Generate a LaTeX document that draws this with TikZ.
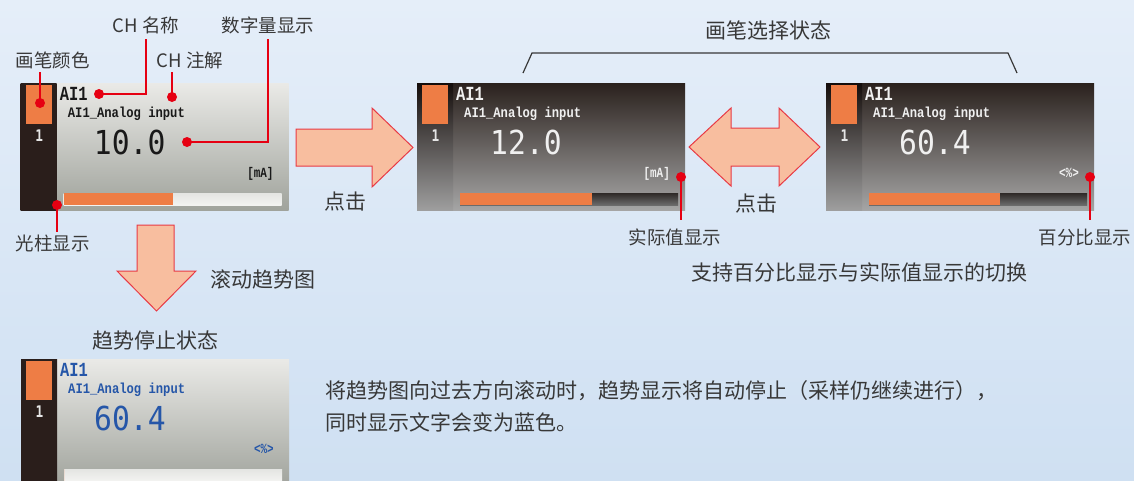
\documentclass[tikz,border=0pt]{standalone}
\usepackage{fontspec}
\usepackage{graphicx}
\setmainfont{Noto Sans CJK SC}
\newfontfamily\lmono{Liberation Mono}
\newfontfamily\dmono{DejaVu Sans Mono}
\definecolor{bgtop}{HTML}{E5EEF9}
\definecolor{bgbot}{HTML}{CFE0F2}
\definecolor{txtgray}{HTML}{383838}
\definecolor{calred}{HTML}{E60012}
\definecolor{arrowfill}{HTML}{F8BE9F}
\definecolor{arrowline}{HTML}{E83A45}
\definecolor{orangec}{HTML}{EE7D45}
\definecolor{lightTop}{HTML}{EAEAE7}
\definecolor{lightBot}{HTML}{A0A39C}
\definecolor{darkTop}{HTML}{2A211D}
\definecolor{darkBot}{HTML}{A5A5A5}
\definecolor{colDark}{HTML}{2A1E1B}
\definecolor{colDarkTop}{HTML}{140D0B}
\definecolor{colDarkBot}{HTML}{9E9E9E}
\definecolor{barLightA}{HTML}{E4E5E2}
\definecolor{barLightB}{HTML}{F3F3F1}
\definecolor{barDarkA}{HTML}{2E2927}
\definecolor{barDarkB}{HTML}{6B6B6B}
\definecolor{dispblue}{HTML}{2556A8}
\tikzset{
  lpmain/.style={top color=lightTop,bottom color=lightBot},
  lpcol/.style={top color=colDark,bottom color=colDark},
  lpbar/.style={top color=barLightA,bottom color=barLightB},
  lptxt/.style={text=black!90},
  bpmain/.style={lpmain}, bpcol/.style={lpcol}, bpbar/.style={lpbar},
  bptxt/.style={text=dispblue},
  dpmain/.style={top color=darkTop,bottom color=darkBot},
  dpcol/.style={top color=colDarkTop,bottom color=colDarkBot},
  dpbar/.style={top color=barDarkA,bottom color=barDarkB},
  dptxt/.style={text=white!94!black},
  lbl/.style={font=\fontsize{18.5}{22}\selectfont, text=txtgray, inner sep=0pt, anchor=base},
  captxt/.style={font=\fontsize{21}{25}\selectfont, text=txtgray, inner sep=0pt, anchor=base},
  callout/.style={draw=calred, line width=1.6pt},
  reddot/.style={circle, fill=calred, minimum size=10pt, inner sep=0pt},
  bigarrow/.style={fill=arrowfill, draw=arrowline, line width=1pt, line join=miter},
  bracketline/.style={draw=txtgray, line width=1.2pt},
}
% #1 name, #2 x0, #3 y0, #4 theme, #5 number, #6 unit, #7 orange end
\newcommand\dpanel[7]{%
\begin{scope}[shift={(#2,#3)}]
  \shade[#4main] (0,0) rectangle (268,127);
  \shade[#4col] (0,0) rectangle (36,127);
  \fill[orangec] (5,2) rectangle (31,41);
  \node[anchor=base, inner sep=0pt, text=white!90!black, font=\dmono\bfseries\fontsize{16}{16}\selectfont] (#1one) at (18.5,58) {\scalebox{0.8}[1]{1}};
  \node[anchor=base west, inner sep=0pt, #4txt, font=\lmono\bfseries\fontsize{20}{20}\selectfont] (#1ch) at (39,17.5) {\scalebox{0.77}[1]{AI1}};
  \node[anchor=base west, inner sep=0pt, #4txt, font=\lmono\bfseries\fontsize{14.5}{14.5}\selectfont] (#1note) at (47,34) {\scalebox{0.84}[1]{AI1\_Analog input}};
  \node[anchor=base west, inner sep=0pt, #4txt, font=\dmono\fontsize{33}{33}\selectfont] (#1num) at (73,71.5) {\scalebox{0.9}[1]{#5}};
  \node[anchor=base east, inner sep=0pt, #4txt, font=\lmono\bfseries\fontsize{14}{14}\selectfont] (#1unit) at (253,94) {\scalebox{0.78}[1]{#6}};
  \shade[#4bar] (43,110) rectangle (261,122);
  \fill[orangec] (43,110) rectangle (#7,122);
\end{scope}}
\begin{document}
\begin{tikzpicture}[x=1pt,y=-1pt]
\useasboundingbox (0,0) rectangle (1134,480);
\clip (0,0) rectangle (1134,480);
\shade[top color=bgtop,bottom color=bgbot] (0,0) rectangle (1134,480);

% panels
\dpanel{pa}{20.7}{83}{lp}{10.0}{[mA]}{152}
\dpanel{pb}{417}{83}{dp}{12.0}{[mA]}{175}
\dpanel{pc}{826}{83}{dp}{60.4}{<\%>}{174}
\dpanel{pd}{21}{359}{bp}{60.4}{<\%>}{43}

% big arrows
\draw[bigarrow] (296,129) -- (372,129) -- (372,108) -- (413,147.5) -- (372,187) -- (372,166) -- (296,166) -- cycle;
\draw[bigarrow] (689,147) -- (731,108) -- (731,128) -- (779,128) -- (779,108) -- (820,147) -- (779,186) -- (779,166) -- (731,166) -- (731,186) -- cycle;
\draw[bigarrow] (137,225) -- (174,225) -- (174,271) -- (196,271) -- (156.5,311) -- (117,271) -- (137,271) -- cycle;

% bracket
\draw[bracketline] (523,73) -- (532,53) -- (1008,53) -- (1017,73);

% labels
\node[lbl] (lColor) at (53,67) {画笔颜色};
\node[lbl] (lName) at (146,32) {CH 名称};
\node[lbl] (lNote) at (190,67) {CH 注解};
\node[lbl] (lNum) at (268,32) {数字量显示};
\node[lbl] (lBar) at (53,250) {光柱显示};
\node[lbl] (lReal) at (675,244) {实际值显示};
\node[lbl] (lPct) at (1085,244) {百分比显示};
\node[captxt] (click1) at (345,209) {点击};
\node[captxt] (click2) at (756,211) {点击};
\node[captxt, anchor=base west] (scroll) at (210,287) {滚动趋势图};
\node[captxt] (stopT) at (155.5,348) {趋势停止状态};
\node[captxt] (selT) at (768,38) {画笔选择状态};
\node[captxt] (switchT) at (859,280) {支持百分比显示与实际值显示的切换};
\node[captxt, anchor=base west] (para1) at (325,398) {将趋势图向过去方向滚动时，趋势显示将自动停止（采样仍继续进行），};
\node[captxt, anchor=base west] (para2) at (325,430) {同时显示文字会变为蓝色。};

% callout ends and dots
\coordinate (eColor) at (40,72);
\coordinate (eName) at (146,39);
\coordinate (eNote) at (172,72);
\coordinate (eNum) at (268,39);
\coordinate (eBar) at (57,232);
\coordinate (eReal) at (681,220);
\coordinate (ePct) at (1090,220);
\node[reddot] (dColor) at (40,103) {};
\node[reddot] (dName) at (99,94) {};
\node[reddot] (dNote) at (172,97) {};
\node[reddot] (dNum) at (187,142) {};
\node[reddot] (dBar) at (57,205) {};
\node[reddot] (dReal) at (681,177) {};
\node[reddot] (dPct) at (1090,177) {};
\draw[callout] (dColor.center) -- (eColor);
\draw[callout] (dName.center) -| (eName);
\draw[callout] (dNote.center) -- (eNote);
\draw[callout] (dNum.center) -| (eNum);
\draw[callout] (dBar.center) -- (eBar);
\draw[callout] (dReal.center) -- (eReal);
\draw[callout] (dPct.center) -- (ePct);
\end{tikzpicture}
\end{document}
